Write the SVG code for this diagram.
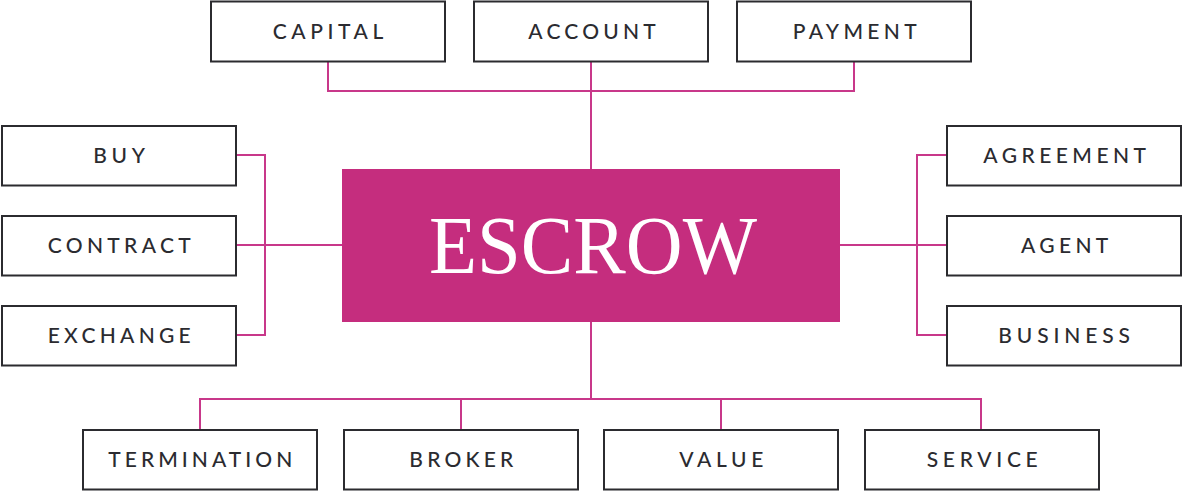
<svg xmlns="http://www.w3.org/2000/svg" width="1183" height="491" viewBox="0 0 1183 491">
<style>
.box{fill:#fff;stroke:#2b2b2f;stroke-width:2}
.lbl{font-family:Lato,"Liberation Sans",sans-serif;font-size:21px;fill:#2b2b30;font-weight:500}
.conn{fill:none;stroke:#c8388a;stroke-width:2}
.title{font-family:"Liberation Serif","DejaVu Serif",serif;font-size:83px;fill:#fff}
</style>
<rect width="1183" height="491" fill="#fff"/>
<g id="connectors" class="conn">
<path d="M328 62V91H854V62M591 62V169"/>
<path d="M236 155H265V335H236M236 245H343"/>
<path d="M946 155H917V335H946M946 245H840"/>
<path d="M591 322V399M200 429V399H981V429M461 399V429M721 399V429"/>
</g>
<g id="escrow">
<rect x="342" y="169" width="498" height="153" fill="#c52d7e"/>
<text class="title" x="429" y="273" textLength="328" lengthAdjust="spacingAndGlyphs">ESCROW</text>
</g>
<g id="capital"><rect class="box" x="211" y="1.5" width="234" height="60"/><text class="lbl" x="272.7" y="39" textLength="110.6" lengthAdjust="spacing">CAPITAL</text></g>
<g id="account"><rect class="box" x="474" y="1.5" width="234" height="60"/><text class="lbl" x="528.3" y="39" textLength="127.4" lengthAdjust="spacing">ACCOUNT</text></g>
<g id="payment"><rect class="box" x="737" y="1.5" width="234" height="60"/><text class="lbl" x="792.7" y="39" textLength="124" lengthAdjust="spacing">PAYMENT</text></g>
<g id="buy"><rect class="box" x="2" y="126" width="234" height="59.5"/><text class="lbl" x="93.3" y="163.3" textLength="51.7" lengthAdjust="spacing">BUY</text></g>
<g id="contract"><rect class="box" x="2" y="216" width="234" height="59.5"/><text class="lbl" x="47.7" y="253.3" textLength="143" lengthAdjust="spacing">CONTRACT</text></g>
<g id="exchange"><rect class="box" x="2" y="306" width="234" height="59.5"/><text class="lbl" x="47.7" y="343.3" textLength="143" lengthAdjust="spacing">EXCHANGE</text></g>
<g id="agreement"><rect class="box" x="947" y="126" width="234" height="59.5"/><text class="lbl" x="983.3" y="163.3" textLength="162.7" lengthAdjust="spacing">AGREEMENT</text></g>
<g id="agent"><rect class="box" x="947" y="216" width="234" height="59.5"/><text class="lbl" x="1021" y="253.3" textLength="87.3" lengthAdjust="spacing">AGENT</text></g>
<g id="business"><rect class="box" x="947" y="306" width="234" height="59.5"/><text class="lbl" x="998.3" y="343.3" textLength="131.7" lengthAdjust="spacing">BUSINESS</text></g>
<g id="termination"><rect class="box" x="83" y="430" width="234" height="59.5"/><text class="lbl" x="108.3" y="467.3" textLength="184" lengthAdjust="spacing">TERMINATION</text></g>
<g id="broker"><rect class="box" x="344" y="430" width="234" height="59.5"/><text class="lbl" x="409.3" y="467.3" textLength="104" lengthAdjust="spacing">BROKER</text></g>
<g id="value"><rect class="box" x="604" y="430" width="234" height="59.5"/><text class="lbl" x="679.3" y="467.3" textLength="84" lengthAdjust="spacing">VALUE</text></g>
<g id="service"><rect class="box" x="865" y="430" width="234" height="59.5"/><text class="lbl" x="926.7" y="467.3" textLength="111" lengthAdjust="spacing">SERVICE</text></g>
</svg>
